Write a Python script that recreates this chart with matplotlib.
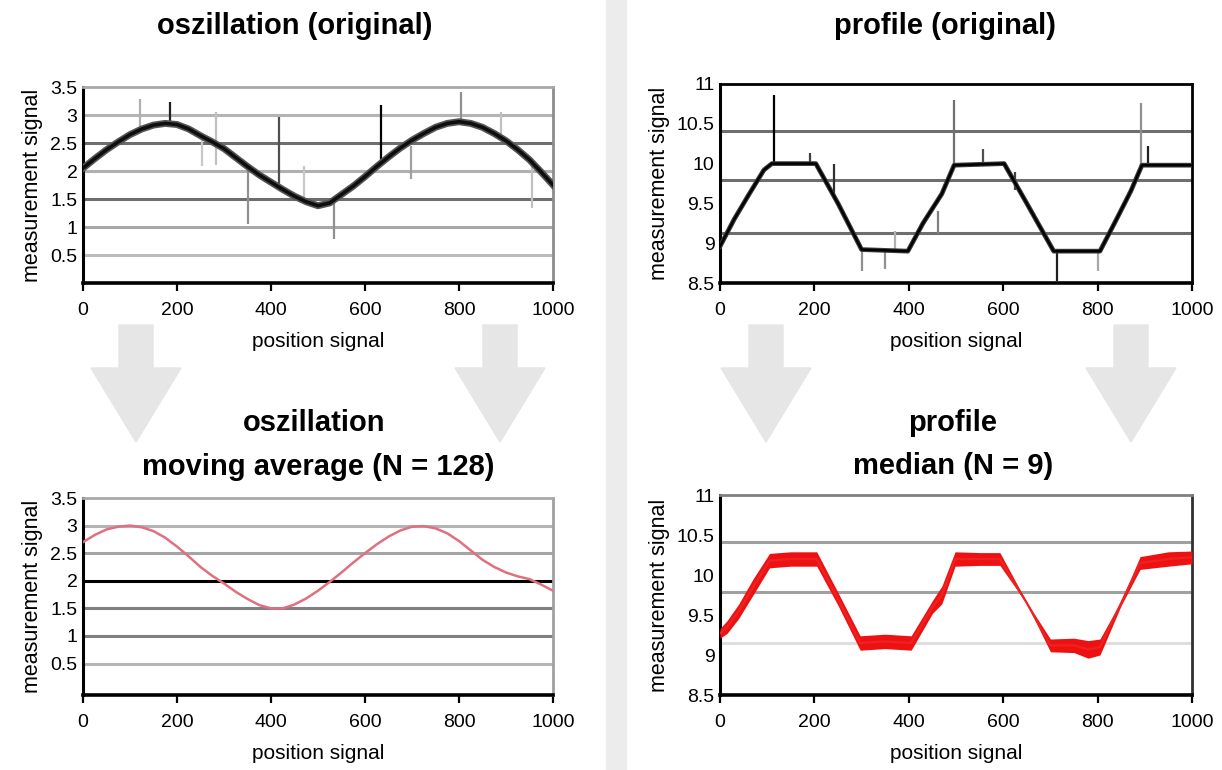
import numpy as np
import matplotlib.pyplot as plt
from matplotlib.patches import Polygon, Rectangle

W, H = 1222, 770

# oszillation (original): noisy sine, read every 25 position units
osc_x = list(range(0, 1001, 25))
osc_y = [2.05, 2.22, 2.38, 2.52, 2.65, 2.75, 2.82, 2.85, 2.83, 2.75, 2.63,
         2.52, 2.40, 2.24, 2.08, 1.93, 1.80, 1.67, 1.55, 1.45, 1.38,
         1.43, 1.58, 1.73, 1.90, 2.08, 2.25, 2.41, 2.55, 2.67, 2.78,
         2.85, 2.88, 2.85, 2.78, 2.67, 2.54, 2.38, 2.20, 1.98, 1.75]
# outlier spikes: position, lower end, upper end
osc_spike_x = [122, 186, 253, 282, 352, 418, 470, 533, 635, 697, 805, 890, 955]
osc_spike_lo = [2.75, 2.80, 2.09, 2.10, 1.05, 1.67, 1.45, 0.78, 2.20, 1.85, 2.85, 2.55, 1.34]
osc_spike_hi = [3.29, 3.23, 2.60, 3.05, 2.00, 2.96, 2.09, 1.50, 3.17, 2.45, 3.41, 3.05, 2.10]

# profile (original): trapezoid profile
prof_x = [0, 30, 60, 93, 110, 203, 250, 300, 398, 430, 470, 496, 602, 650, 707, 805, 840, 870, 894, 1000]
prof_y = [8.96, 9.3, 9.6, 9.92, 10.0, 10.0, 9.5, 8.92, 8.90, 9.25, 9.62, 9.98, 10.0, 9.5, 8.90, 8.90, 9.3, 9.65, 9.98, 9.98]
prof_spike_x = [114, 191, 241, 301, 350, 370, 462, 496, 557, 626, 715, 800, 891, 906]
prof_spike_lo = [10.0, 10.0, 9.55, 8.65, 8.68, 8.90, 9.12, 9.95, 10.0, 9.67, 8.53, 8.65, 9.95, 10.0]
prof_spike_hi = [10.86, 10.13, 9.99, 8.92, 8.90, 9.15, 9.40, 10.80, 10.18, 9.90, 8.92, 8.92, 10.76, 10.22]

# oszillation, moving average (N = 128)
avg_x = list(range(0, 1001, 25))
avg_y = [2.70, 2.83, 2.93, 2.98, 3.00, 2.97, 2.90, 2.78, 2.62, 2.44, 2.25,
         2.09, 1.95, 1.80, 1.67, 1.56, 1.50, 1.50, 1.57, 1.68, 1.82,
         1.98, 2.15, 2.33, 2.50, 2.66, 2.80, 2.91, 2.98, 2.99, 2.95,
         2.86, 2.72, 2.55, 2.38, 2.25, 2.15, 2.08, 2.03, 1.93, 1.82]

# profile, median (N = 9): centre line and spread of the red band
med_x = [0, 15, 40, 70, 105, 150, 205, 250, 297, 350, 405, 450, 470, 498,
         550, 593, 650, 700, 750, 780, 805, 850, 890, 950, 1000]
med_y = [9.27, 9.35, 9.55, 9.85, 10.18, 10.20, 10.20, 9.70, 9.15, 9.17, 9.15, 9.60, 9.75, 10.20,
         10.20, 10.20, 9.65, 9.12, 9.12, 9.07, 9.10, 9.65, 10.15, 10.20, 10.22]
med_spread = [0.06, 0.08, 0.09, 0.10, 0.09, 0.09, 0.09, 0.08, 0.09, 0.09, 0.09, 0.08, 0.11, 0.09,
              0.08, 0.08, 0.01, 0.08, 0.09, 0.11, 0.10, 0.03, 0.08, 0.09, 0.08]

x_ticks = [0, 200, 400, 600, 800, 1000]
osc_yticks = [0.5, 1, 1.5, 2, 2.5, 3, 3.5]
osc_yticklabels = ['0.5', '1', '1.5', '2', '2.5', '3', '3.5']
prof_yticks = [8.5, 9, 9.5, 10, 10.5, 11]
prof_yticklabels = ['8.5', '9', '9.5', '10', '10.5', '11']

plt.rcParams['font.family'] = ['Liberation Sans', 'DejaVu Sans']

fig = plt.figure(figsize=(W / 100, H / 100), dpi=100)
fig.patch.set_facecolor('white')


def rect(x0, y0, x1, y1):
    return [x0 / W, 1 - y1 / H, (x1 - x0) / W, (y1 - y0) / H]


def fpt(x, y):
    return (x / W, 1 - y / H)


# divider and arrows in the background
fig.add_artist(Rectangle(fpt(606, 770), 20 / W, 1, color='#ececec', zorder=0))
for cx in [136, 500, 766, 1131]:
    pts = [(cx - 17, 325), (cx + 17, 325), (cx + 17, 368), (cx + 45, 368),
           (cx, 442), (cx - 45, 368), (cx - 17, 368)]
    fig.add_artist(Polygon([fpt(*p) for p in pts], closed=True,
                           color='#e6e6e6', zorder=0))


def style_axes(ax, xlim, ylim, yticks, yticklabels, grid_vals, grid_cols,
               top_col, right_col):
    ax.set_xlim(*xlim)
    ax.set_ylim(*ylim)
    ax.set_facecolor('none')
    for v, c in zip(grid_vals, grid_cols):
        ax.axhline(v, color=c, lw=2.2, zorder=1)
    ax.set_xticks(x_ticks)
    ax.set_xticklabels([str(t) for t in x_ticks], fontsize=14)
    ax.set_yticks(yticks)
    ax.set_yticklabels(yticklabels, fontsize=14)
    ax.tick_params(axis='x', length=6, width=1.6, pad=8, color='black')
    ax.tick_params(axis='y', length=0, pad=4)
    ax.spines['left'].set_linewidth(2.2)
    ax.spines['bottom'].set_linewidth(2.6)
    ax.spines['top'].set_color(top_col)
    ax.spines['top'].set_linewidth(2.0)
    ax.spines['right'].set_color(right_col)
    ax.spines['right'].set_linewidth(2.0)
    ax.set_xlabel('position signal', fontsize=15, labelpad=9)
    ax.set_ylabel('measurement signal', fontsize=15.5, labelpad=5)


# top left
ax1 = fig.add_axes(rect(83, 87, 553, 283))
style_axes(ax1, (0, 1000), (0, 3.5), osc_yticks, osc_yticklabels,
           [3.0, 2.5, 2.0, 1.5, 1.0, 0.5],
           ['#b4b4b4', '#6e6e6e', '#b0b0b0', '#6e6e6e', '#a8a8a8', '#bcbcbc'],
           '#a8a8a8', '#8c8c8c')
spike_cols = ['#b0b0b0', '#202020', '#c8c8c8', '#c0c0c0', '#909090', '#505050',
              '#c8c8c8', '#909090', '#000000', '#a0a0a0', '#909090', '#c0c0c0', '#c0c0c0']
ax1.vlines(osc_spike_x, osc_spike_lo, osc_spike_hi, colors=spike_cols, lw=1.6, zorder=2)
ax1.plot(osc_x, osc_y, color='#555555', lw=5, zorder=3, solid_joinstyle='round')
ax1.plot(osc_x, osc_y, color='#0e0e0e', lw=2.6, zorder=4)

# top right
ax2 = fig.add_axes(rect(720, 84, 1192, 283))
style_axes(ax2, (0, 1000), (8.5, 11), prof_yticks, prof_yticklabels,
           [10.41, 9.79, 9.13], ['#6e6e6e', '#6e6e6e', '#6e6e6e'],
           '#000000', '#000000')
pspike_cols = ['#000000', '#404040', '#303030', '#909090', '#909090', '#b0b0b0', '#808080',
               '#707070', '#505050', '#404040', '#202020', '#a8a8a8', '#909090', '#202020']
ax2.vlines(prof_spike_x, prof_spike_lo, prof_spike_hi, colors=pspike_cols, lw=1.6, zorder=2)
ax2.plot(prof_x, prof_y, color='#3a3a3a', lw=3.4, zorder=3)
ax2.plot(prof_x, prof_y, color='#000000', lw=1.8, zorder=4)

# bottom left
ax3 = fig.add_axes(rect(83, 498, 553, 695))
style_axes(ax3, (0, 1000), (-0.07, 3.5), osc_yticks, osc_yticklabels,
           [3.0, 2.5, 2.0, 1.5, 1.0, 0.5],
           ['#b4b4b4', '#a4a4a4', '#000000', '#808080', '#808080', '#b4b4b4'],
           '#a8a8a8', '#a0a0a0')
ax3.plot(avg_x, avg_y, color='#e07080', lw=1.8, zorder=3)

# bottom right
ax4 = fig.add_axes(rect(720, 495, 1192, 695))
style_axes(ax4, (0, 1000), (8.5, 11), prof_yticks, prof_yticklabels,
           [10.41, 9.79, 9.15], ['#a0a0a0', '#a0a0a0', '#dedede'],
           '#808080', '#303030')
lo = np.array(med_y) - np.array(med_spread)
hi = np.array(med_y) + np.array(med_spread)
ax4.fill_between(med_x, lo, hi, color='#ee1111', lw=0, zorder=3)
ax4.plot(med_x, med_y, color='#ee2222', lw=1.6, zorder=3)

# titles
title_kw = dict(fontsize=21, fontweight='bold', ha='center', va='center')
fig.text(*fpt(295, 26), 'oszillation (original)', **title_kw)
fig.text(*fpt(945, 26), 'profile (original)', **title_kw)
fig.text(*fpt(314, 423), 'oszillation', **title_kw)
fig.text(*fpt(318, 467), 'moving average (N = 128)', **title_kw)
fig.text(*fpt(953, 423), 'profile', **title_kw)
fig.text(*fpt(953, 466), 'median (N = 9)', **title_kw)

fig.savefig('out.png', dpi=100, facecolor='white')
